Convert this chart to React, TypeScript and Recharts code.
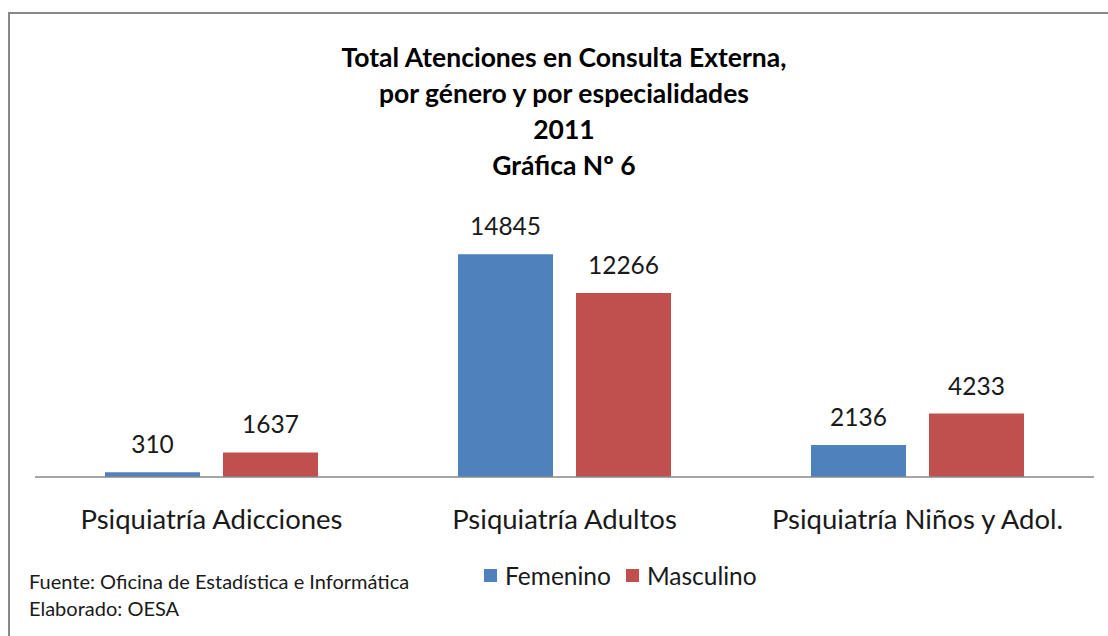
import { BarChart, Bar, XAxis, YAxis, LabelList, Legend } from "recharts";

const categories = ["Psiquiatría Adicciones", "Psiquiatría Adultos", "Psiquiatría Niños y Adol."];
const femenino = [310, 14845, 2136];
const masculino = [1637, 12266, 4233];
const titleLines = [
  "Total Atenciones en Consulta Externa,",
  "por género y por especialidades",
  "2011",
  "Gráfica Nº 6",
];
const footerLines = ["Fuente: Oficina de Estadística e Informática", "Elaborado: OESA"];

const FONT = "Lato, 'Open Sans', sans-serif";
const BLUE = "#4f81bd";
const RED = "#c0504d";

const data = categories.map((name, i) => ({
  name,
  Femenino: femenino[i],
  Masculino: masculino[i],
}));

function LegendContent({ payload }: any) {
  return (
    <div style={{ display: "flex", alignItems: "center", fontFamily: FONT, fontSize: 24.5, color: "#1a1a1a" }}>
      {(payload || []).map((p: any) => (
        <span key={p.value} style={{ display: "flex", alignItems: "center", marginRight: 15 }}>
          <span style={{ width: 13, height: 13, background: p.color, marginRight: 8, display: "inline-block" }} />
          {p.value}
        </span>
      ))}
    </div>
  );
}

export default function App() {
  return (
    <div
      style={{
        position: "absolute",
        left: 0,
        top: 0,
        width: 1108,
        height: 636,
        overflow: "hidden",
        background: "#fff",
        fontFamily: FONT,
      }}
    >
      <div
        style={{
          position: "absolute",
          left: 8,
          top: 12,
          width: 1200,
          height: 700,
          border: "2px solid #888",
        }}
      />
      <div
        style={{
          position: "absolute",
          left: 264,
          top: 39,
          width: 600,
          textAlign: "center",
          fontWeight: 700,
          fontSize: 26.5,
          lineHeight: "36px",
          color: "#000",
        }}
      >
        {titleLines.map((t) => (
          <div key={t}>{t}</div>
        ))}
      </div>
      <div
        style={{
          position: "absolute",
          left: 29,
          top: 568,
          fontSize: 20,
          lineHeight: "27px",
          color: "#1a1a1a",
        }}
      >
        {footerLines.map((t) => (
          <div key={t}>{t}</div>
        ))}
      </div>
      <div style={{ position: "absolute", left: 0, top: 0 }}>
        <BarChart
          width={1108}
          height={636}
          data={data}
          margin={{ top: 237, right: 14, left: 35, bottom: 99 }}
          barSize={95}
          barGap={23}
        >
          <XAxis
            dataKey="name"
            height={60}
            tickLine={false}
            tickSize={0}
            tickMargin={32}
            axisLine={{ stroke: "#888", strokeWidth: 1.5 }}
            tick={{ fontSize: 27.5, fill: "#1a1a1a", fontFamily: FONT }}
          />
          <YAxis hide domain={[0, 16000]} />
          <Legend
            layout="horizontal"
            verticalAlign="middle"
            align="center"
            content={<LegendContent />}
            wrapperStyle={{ left: 484, top: 561, width: "auto", height: "auto" }}
          />
          <Bar dataKey="Femenino" fill={BLUE} isAnimationActive={false}>
            <LabelList
              dataKey="Femenino"
              position="top"
              offset={19}
              style={{ fontSize: 24.5, fill: "#1a1a1a", fontFamily: FONT }}
            />
          </Bar>
          <Bar dataKey="Masculino" fill={RED} isAnimationActive={false}>
            <LabelList
              dataKey="Masculino"
              position="top"
              offset={19}
              style={{ fontSize: 24.5, fill: "#1a1a1a", fontFamily: FONT }}
            />
          </Bar>
        </BarChart>
      </div>
    </div>
  );
}
